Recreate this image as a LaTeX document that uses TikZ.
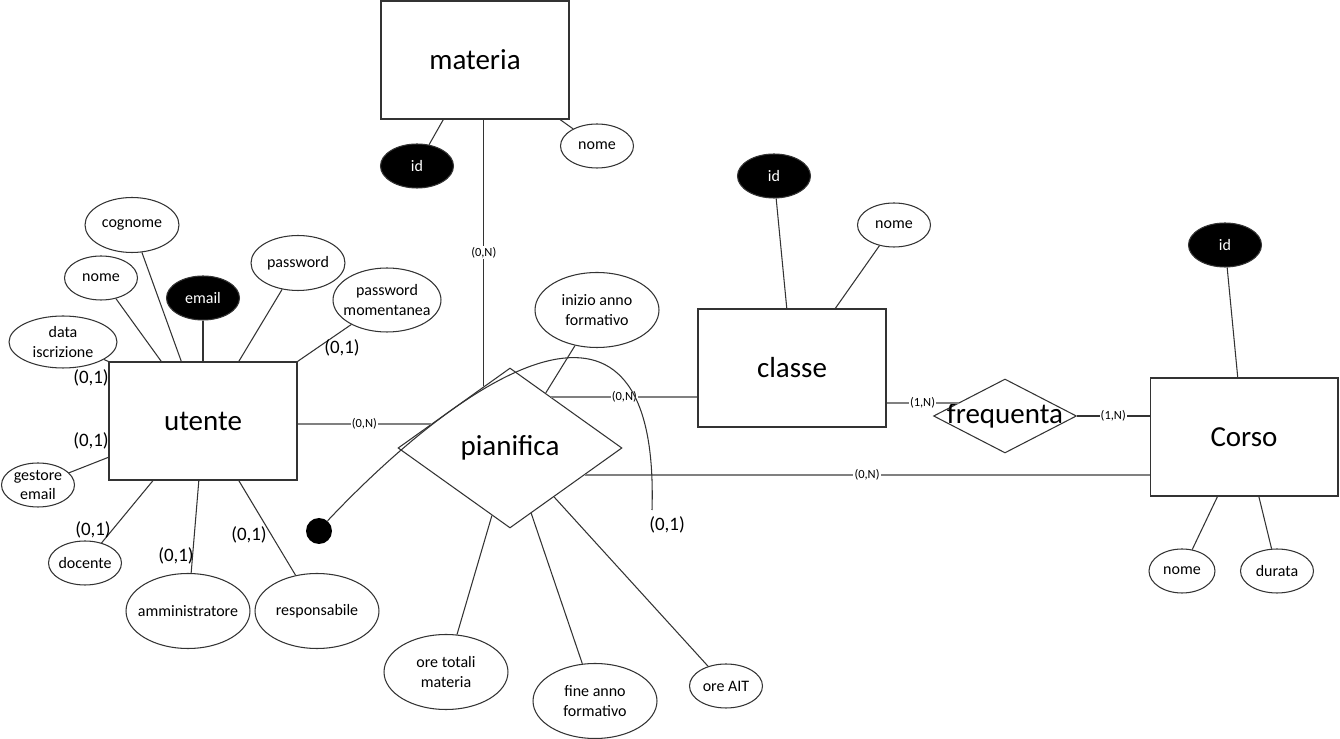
\documentclass[tikz,border=0pt]{standalone}
\usepackage{fontspec}
\setmainfont{Carlito}
\usetikzlibrary{shapes.geometric}

\begin{document}
\begin{tikzpicture}[x=0.02cm,y=-0.02cm,
	entity/.style={draw=black!80,line width=0.6pt,minimum width=3.76cm,minimum height=2.36cm,font=\fontsize{16.5}{18}\selectfont},
	attr/.style={ellipse,draw=black!80,line width=0.6pt,inner sep=-5pt,align=center,font=\fontsize{9.1}{11.2}\selectfont},
	key/.style={attr,fill=black,text=white},
	small/.style={minimum width=1.46cm,minimum height=0.88cm},
	mid/.style={minimum width=1.88cm,minimum height=1.1cm},
	wide/.style={minimum width=2.16cm,minimum height=1.04cm},
	big/.style={minimum width=2.48cm,minimum height=1.5cm},
	link/.style={black!80,line width=0.6pt},
	rel/.style={black!50,line width=1.1pt},
	card/.style={fill=white,text=black,inner sep=0.6pt,font=\fontsize{7.1}{8}\selectfont},
	opt/.style={inner sep=0pt,font=\fontsize{10.8}{12}\selectfont}]

\fill[white,use as bounding box] (0,0) rectangle (1340,739);

% entities
\node[entity] (materia) at (475,60) {materia};
\node[entity] (utente) at (203,421) {utente};
\node[entity] (classe) at (792,368) {classe};
\node[entity] (corso) at (1244,437) {Corso};

% relationships
\node[diamond,draw=black!80,line width=0.6pt,aspect=1.4,inner sep=0pt,minimum width=4.48cm,minimum height=3.2cm,font=\fontsize{16.5}{18}\selectfont] (pianifica) at (510,448) {pianifica};
\node[diamond,draw=black!80,line width=0.6pt,inner sep=0pt,minimum width=2.86cm,minimum height=1.48cm,label={[font=\fontsize{16.5}{18}\selectfont]center:frequenta}] (frequenta) at (1005,416) {};

% attributes of utente
\node[attr,mid] (u-cognome) at (132,225) {cognome};
\node[attr,small] (u-nome) at (101,278) {nome};
\node[key,small] (u-email) at (203,298) {email};
\node[attr,mid] (u-password) at (298,263) {password};
\node[attr,wide,minimum height=1.28cm] (u-pwdmom) at (387,300) {password\\momentanea};
\node[attr,wide] (u-data) at (63,342) {data\\iscrizione};
\node[attr,small] (u-gestore) at (38,485) {gestore\\email};
\node[attr,small] (u-docente) at (85,563) {docente};
\node[attr,big] (u-admin) at (188,611) {amministratore};
\node[attr,big] (u-resp) at (317,611) {responsabile};

\foreach \a/\ang in {u-cognome/110,u-nome/125,u-email/90,u-password/59,u-pwdmom/north east,u-data/north west,u-gestore/201,u-docente/230,u-admin/266,u-resp/301}
	\draw[link] (\a) -- (utente.\ang);

% attributes of materia, classe, Corso
\node[key,small] (m-id) at (417,166) {id};
\node[attr,small] (m-nome) at (597,146) {nome};
\node[key,small] (c-id) at (774,176) {id};
\node[attr,small] (c-nome) at (894,225) {nome};
\node[key,small] (k-id) at (1225,245) {id};
\node[attr,small,minimum width=1.32cm] (k-nome) at (1182,571) {nome};
\node[attr,small] (k-durata) at (1277,571) {durata};

\draw[link] (m-id) -- (materia.242);
\draw[link] (m-nome) -- (materia.325);
\draw[link] (c-id) -- (classe.95);
\draw[link] (c-nome) -- (classe.54);
\draw[link] (k-id) -- (corso.96);
\draw[link] (k-nome) -- (corso.246);
\draw[link] (k-durata) -- (corso.284);

% attributes of pianifica
\node[attr,big] (p-inizio) at (597,310) {inizio anno\\formativo};
\node[attr,big] (p-ore) at (446,672) {ore totali\\materia};
\node[attr,big] (p-fine) at (595,701) {fine anno\\formativo};
\node[attr,small] (p-ait) at (726,686) {ore AIT};

\foreach \a/\ang in {p-inizio/57,p-ore/255,p-fine/288,p-ait/312}
	\draw[link] (\a) -- (pianifica.\ang);

% links with cardinalities
\draw[link] (pianifica.113) -- node[card] (n1) {(0,N)} (pianifica.113 |- materia.south);
\draw[rel] (pianifica.163) -- node[card] (n2) {(0,N)} (pianifica.163 -| utente.east);
\draw[rel] (pianifica.51) -- node[card] (n3) {(0,N)} (pianifica.51 -| classe.west);
\draw[rel] (pianifica.340) -- node[card] (n4) {(0,N)} (pianifica.340 -| corso.west);
\draw[rel] (frequenta.164) -- node[card] (n5) {(1,N)} (frequenta.164 -| classe.east);
\draw[link] (frequenta.east) -- node[card] (n6) {(1,N)} (frequenta.east -| corso.west);

% curved link
\node[circle,fill=black,inner sep=0pt,minimum size=0.52cm] (dot) at (319,531) {};
\coordinate (arcend) at (652,510);
\draw[link] (dot.50) .. controls (470,370) and (660,250) .. (arcend);

\foreach \x/\y [count=\i] in {342/348,91/378,91/441,93/530,176/556,249/535,667/525}
	\node[opt] (o\i) at (\x,\y) {(0,1)};

\end{tikzpicture}
\end{document}
